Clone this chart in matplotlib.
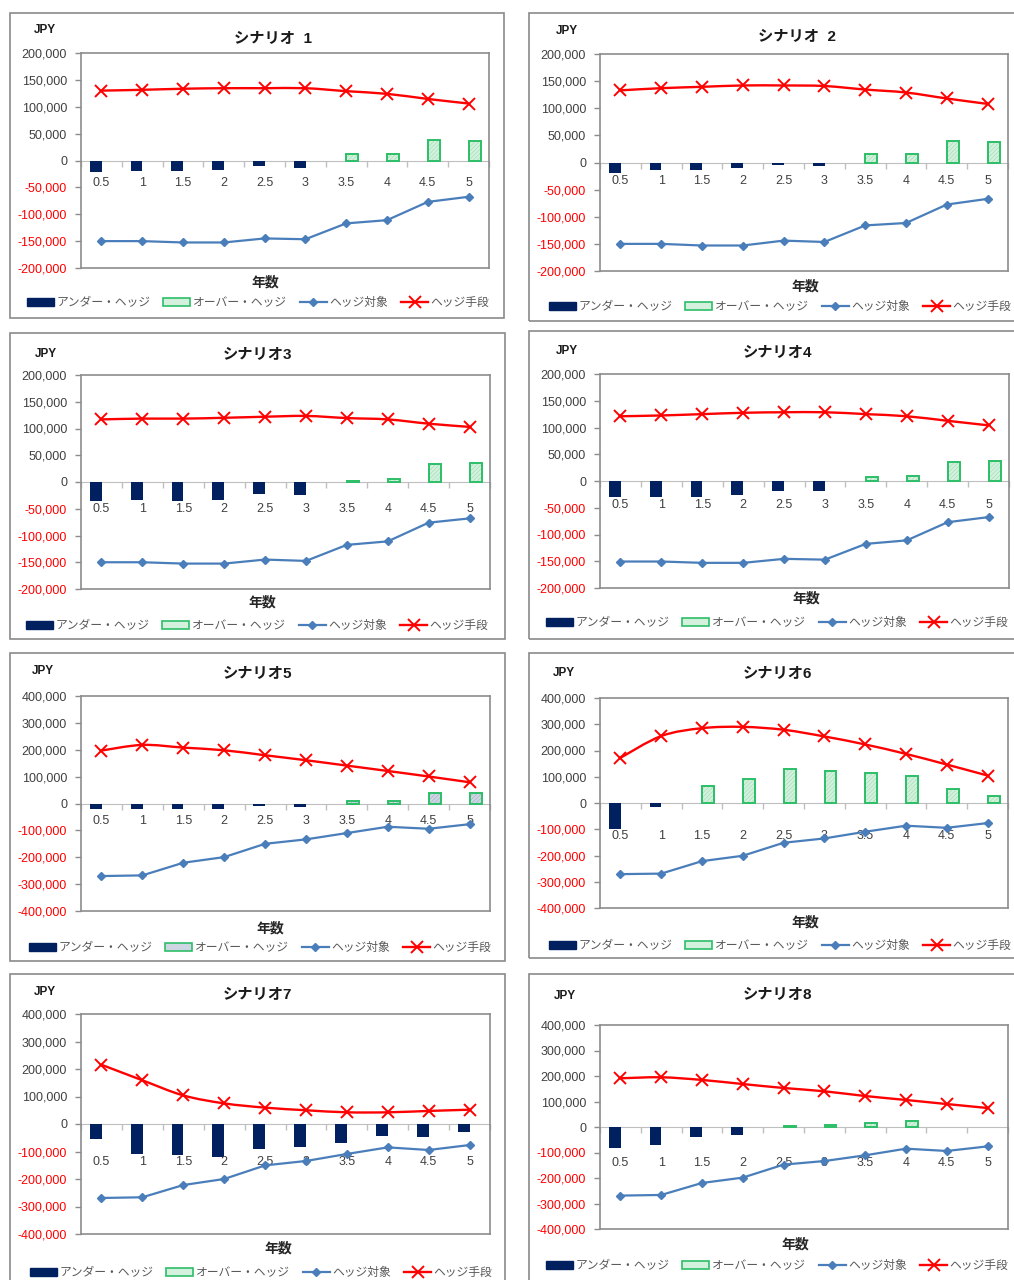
import matplotlib
matplotlib.use("Agg")
import matplotlib.pyplot as plt
from matplotlib.patches import Patch, Rectangle, PathPatch
from matplotlib.lines import Line2D
from matplotlib.path import Path
from matplotlib.transforms import offset_copy
import numpy as np

plt.rcParams['font.family'] = ['Liberation Sans', 'Noto Sans CJK JP']
plt.rcParams['hatch.linewidth'] = 0.35

W, H = 1014, 1280

years = ['0.5', '1', '1.5', '2', '2.5', '3', '3.5', '4', '4.5', '5']
titles = ['シナリオ  1', 'シナリオ  2', 'シナリオ3', 'シナリオ4',
          'シナリオ5', 'シナリオ6', 'シナリオ7', 'シナリオ8']
series_names = ['アンダー・ヘッジ', 'オーバー・ヘッジ', 'ヘッジ対象', 'ヘッジ手段']

# ヘッジ手段
hedge_tool = [
    [130000, 131500, 133500, 134500, 134500, 134500, 129000, 124000, 114500, 106000],
    [133000, 137000, 139500, 142000, 142000, 141000, 134500, 129000, 118000, 108000],
    [117000, 118500, 118500, 120000, 122000, 123500, 119500, 117000, 109000, 103000],
    [121000, 122500, 125000, 127500, 128500, 128500, 125000, 121000, 112500, 104000],
    [197000, 218000, 208000, 198000, 179500, 161000, 141000, 121000, 100500, 79000],
    [172000, 255000, 285000, 290000, 279000, 253500, 223000, 187000, 146500, 104500],
    [215500, 159000, 104000, 75000, 59500, 50000, 42500, 42500, 47500, 52000],
    [191000, 195000, 184500, 168500, 153000, 140000, 121500, 106000, 90000, 74500],
]

# ヘッジ対象
hedge_target = [
    [-150000, -150000, -152500, -152500, -145000, -146500, -117000, -111000, -77000, -67500],
    [-150000, -150000, -153000, -153000, -144000, -146500, -116000, -111500, -77500, -67000],
    [-150000, -150000, -152500, -152500, -145000, -147500, -117500, -111000, -76000, -68000],
    [-150500, -150500, -153000, -153000, -145500, -147000, -117500, -111000, -77000, -67500],
    [-270000, -267500, -220500, -199500, -150000, -133500, -110000, -86500, -94000, -77000],
    [-271000, -269000, -221500, -201000, -151500, -135000, -109500, -86500, -94500, -76500],
    [-269000, -266500, -222000, -200000, -150500, -134500, -109000, -85000, -94500, -76500],
    [-269000, -266500, -219500, -198500, -147500, -133500, -111000, -85000, -94000, -76000],
]

# アンダー・ヘッジ
under_hedge = [
    [-22000, -19000, -20000, -18000, -9500, -13500, 0, 0, 0, 0],
    [-18500, -14000, -14000, -11000, -4000, -6000, 0, 0, 0, 0],
    [-35000, -33000, -35000, -33000, -23000, -24500, 0, 0, 0, 0],
    [-30000, -29000, -29000, -26500, -18000, -19500, 0, 0, 0, 0],
    [-22000, -20000, -20000, -20000, -10000, -12500, 0, 0, 0, 0],
    [-99500, -15500, 0, 0, 0, 0, 0, 0, 0, 0],
    [-54500, -108000, -114000, -120000, -92000, -85000, -69000, -45000, -47500, -29000],
    [-82000, -72000, -38000, -30000, 0, 0, 0, 0, -1500, -1500],
]

# オーバー・ヘッジ
over_hedge = [
    [0, 0, 0, 0, 0, 0, 12000, 13000, 38500, 37000],
    [0, 0, 0, 0, 0, 0, 16000, 16000, 40500, 38000],
    [0, 0, 0, 0, 0, 0, 2500, 5500, 33000, 35500],
    [0, 0, 0, 0, 0, 0, 7500, 10000, 35500, 37000],
    [0, 0, 0, 0, 0, 0, 11000, 11000, 38500, 38500],
    [0, 0, 63500, 92000, 128500, 122500, 114500, 102000, 55000, 28000],
    [0, 0, 0, 0, 0, 0, 0, 0, 0, 0],
    [0, 0, 0, 0, 5000, 8000, 14500, 22000, 0, 0],
]

y_limits = [200000] * 4 + [400000] * 4
y_steps = [50000] * 4 + [100000] * 4

# layout in pixels
plot_boxes = [(81, 53, 489, 268), (600, 54, 1008, 271),
              (81, 375, 490, 589), (600, 374, 1009, 588),
              (81, 696, 490, 911), (600, 698, 1008, 908),
              (81, 1014, 490, 1234), (600, 1025, 1008, 1229)]
frames = [(10, 13, 504, 318), (529, 13, 1016, 321),
          (10, 333, 505, 639), (529, 331, 1016, 639),
          (10, 653, 505, 961), (529, 653, 1016, 958),
          (10, 974, 505, 1283), (529, 974, 1016, 1283)]
title_pos = [(273, 39), (797, 37), (257, 355), (777, 353),
             (257, 674), (777, 674), (257, 995), (777, 995)]
jpy_pos = [(45, 30), (567, 31), (46, 354), (567, 351),
           (43, 671), (564, 673), (45, 992), (565, 996)]
xlabel_pos = [(265, 282), (805, 286), (262, 602), (806, 599),
              (270, 928), (805, 923), (278, 1248), (795, 1245)]
legend_pos = [(258, 303), (780, 307), (257, 626), (777, 623),
              (260, 948), (780, 946), (261, 1273), (777, 1266)]
xtick_offset = [22, 18, 27, 24, 17, 33, 38, 36]

NAVY = '#002060'
GREEN = '#2DBE68'
BLUE = '#4A7EBB'
RED = '#FF0000'
GRID = '#8C8C8C'


def smooth_path(x, y):
    pts = np.column_stack([x, y]).astype(float)
    n = len(pts)
    verts = [pts[0]]
    codes = [Path.MOVETO]
    for i in range(n - 1):
        p_prev = pts[i - 1] if i > 0 else pts[i]
        p_next = pts[i + 2] if i + 2 < n else pts[i + 1]
        c1 = pts[i] + (pts[i + 1] - p_prev) / 6.0
        c2 = pts[i + 1] - (p_next - pts[i]) / 6.0
        verts += [c1, c2, pts[i + 1]]
        codes += [Path.CURVE4] * 3
    return Path(verts, codes)


fig = plt.figure(figsize=(W / 100, H / 100), dpi=100)

for k in range(8):
    l, t, r, b = frames[k]
    fig.patches.append(Rectangle((l / W, 1 - b / H), (r - l) / W, (b - t) / H,
                                 transform=fig.transFigure, fill=False,
                                 edgecolor='#8A8A8A', linewidth=1.2))

    l, t, r, b = plot_boxes[k]
    ax = fig.add_axes([l / W, 1 - b / H, (r - l) / W, (b - t) / H])
    x = np.arange(len(years))
    lim = y_limits[k]
    step = y_steps[k]

    # bars
    over_fill = '#CDD6E2' if k == 4 else '#D4F1DD'
    over_hatch = '#9AA9BE' if k == 4 else '#93D9AB'
    ax.bar(x - 0.14, under_hedge[k], width=0.29, color=NAVY, zorder=2)
    ov = np.array(over_hedge[k])
    idx = np.nonzero(ov)[0]
    ax.bar(x[idx] + 0.15, ov[idx], width=0.29, facecolor=over_fill,
           edgecolor=over_hatch, linewidth=0, hatch='////////', zorder=2)
    ax.bar(x[idx] + 0.15, ov[idx], width=0.29, facecolor='none',
           edgecolor=GREEN, linewidth=1.4, zorder=2)

    # hedge target line
    ax.plot(x, hedge_target[k], color=BLUE, linewidth=1.6, marker='D',
            markersize=4.2, zorder=4)

    # hedge instrument line (smoothed)
    ax.add_patch(PathPatch(smooth_path(x, hedge_tool[k]), fill=False,
                           edgecolor=RED, linewidth=1.7, zorder=5))
    ax.plot(x, hedge_tool[k], linestyle='none', marker='x', color=RED,
            markersize=8.5, markeredgewidth=1.4, zorder=6)

    ax.set_xlim(-0.5, len(years) - 0.5)
    ax.set_ylim(-lim, lim)
    yt = np.arange(-lim, lim + 1, step)
    ax.set_yticks(yt, [f"{v:,}" for v in yt])
    for lab, v in zip(ax.get_yticklabels(), yt):
        lab.set_color(RED if v < 0 else '#404040')
    ax.tick_params(axis='y', direction='out', length=4, width=1, color=GRID,
                   labelsize=9, pad=6)

    # category axis sits on zero
    ax.spines['bottom'].set_position(('data', 0))
    ax.spines['bottom'].set_color('#BFBFBF')
    ax.spines['bottom'].set_zorder(1)
    ax.set_xticks(np.arange(-0.5, len(years), 1.0), [''] * (len(years) + 1))
    ax.tick_params(axis='x', direction='out', length=4, width=1, color='#BFBFBF')
    for s in ['top', 'left', 'right']:
        ax.spines[s].set_color(GRID)
        ax.spines[s].set_linewidth(1.2)
    ax.plot([0, 1], [0, 0], transform=ax.transAxes, color=GRID,
            linewidth=1.2, clip_on=False)

    tr = offset_copy(ax.transData, fig=fig, y=-xtick_offset[k], units='dots')
    for i, lbl in enumerate(years):
        ax.text(i, 0, lbl, transform=tr, ha='center', va='center',
                fontsize=9, color='#404040', zorder=3)

    tx, ty = title_pos[k]
    fig.text(tx / W, 1 - ty / H, titles[k], ha='center', va='center',
             fontsize=11, fontweight='bold', color='#1A1A1A')
    jx, jy = jpy_pos[k]
    fig.text(jx / W, 1 - jy / H, 'JPY', ha='center', va='center',
             fontsize=8.5, fontweight='bold', color='#1A1A1A')
    lx, ly = xlabel_pos[k]
    fig.text(lx / W, 1 - ly / H, '年数', ha='center', va='center',
             fontsize=10, fontweight='bold', color='#262626')

    handles = [
        Patch(facecolor=NAVY, edgecolor=NAVY),
        Patch(facecolor=over_fill, edgecolor=GREEN, linewidth=1.2),
        Line2D([], [], color=BLUE, linewidth=1.6, marker='D', markersize=4.2),
        Line2D([], [], color=RED, linewidth=1.7, marker='x', markersize=8.5,
               markeredgewidth=1.4),
    ]
    gx, gy = legend_pos[k]
    fig.legend(handles, series_names, loc='center',
               bbox_to_anchor=(gx / W, 1 - gy / H), ncol=4, frameon=False,
               fontsize=8.5, handlelength=2.3, handletextpad=0.2,
               columnspacing=1.1, labelcolor='#595959', borderpad=0,
               borderaxespad=0)

fig.savefig('out.png', dpi=100)
